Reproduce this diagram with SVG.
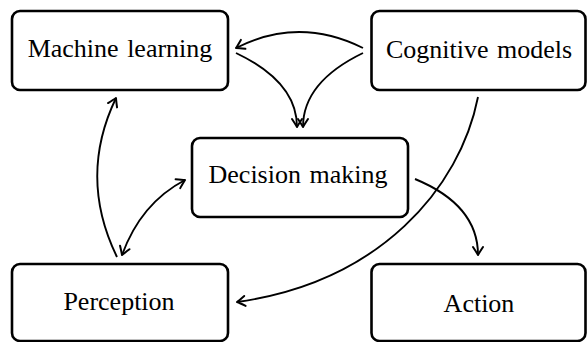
<svg xmlns="http://www.w3.org/2000/svg" width="587" height="342" viewBox="0 0 587 342">
<style>
.box{fill:#fff;stroke:#000;stroke-width:2.6}
.lbl{font-family:'Liberation Serif','Times New Roman',Tinos,serif;font-size:26px;fill:#000;text-anchor:middle;word-spacing:2px}
.edge{fill:none;stroke:#000;stroke-width:1.9}
</style>
<defs>
<marker id="arr" viewBox="-10 -7 12 14" markerWidth="12" markerHeight="14" refX="0" refY="0" orient="auto-start-reverse" markerUnits="userSpaceOnUse">
<path d="M-8,-5 Q-2.5,-1.4 0,0 Q-2.5,1.4 -8,5" fill="none" stroke="#000" stroke-width="2" stroke-linecap="round" stroke-linejoin="round"/>
</marker>
</defs>
<rect width="587" height="342" fill="#fff"/>
<g id="machine-learning"><rect class="box" x="12" y="11" width="216" height="79" rx="8"/><text class="lbl" x="120" y="57" font-family="Liberation Serif, serif">Machine learning</text></g>
<g id="cognitive-models"><rect class="box" x="371.5" y="11" width="214" height="79" rx="8"/><text class="lbl" x="479" y="58" font-family="Liberation Serif, serif">Cognitive models</text></g>
<g id="decision-making"><rect class="box" x="192" y="138" width="216" height="79" rx="8"/><text class="lbl" x="298" y="183" font-family="Liberation Serif, serif">Decision making</text></g>
<g id="perception"><rect class="box" x="12" y="264" width="216" height="77" rx="8"/><text class="lbl" x="119" y="310" font-family="Liberation Serif, serif">Perception</text></g>
<g id="action"><rect class="box" x="371.5" y="264" width="214" height="77" rx="8"/><text class="lbl" x="479" y="312" font-family="Liberation Serif, serif">Action</text></g>
<g id="connectors">
<path class="edge" marker-end="url(#arr)" d="M363,48 Q299,16 236,48"/>
<path class="edge" marker-end="url(#arr)" d="M236,53 Q297,82 297,127"/>
<path class="edge" marker-end="url(#arr)" d="M363,53 Q303,82 303,127"/>
<path class="edge" marker-end="url(#arr)" d="M478,97 C460,188 380,282 237,302"/>
<path class="edge" marker-end="url(#arr)" d="M415,179 Q478,205 478,255"/>
<path class="edge" marker-start="url(#arr)" marker-end="url(#arr)" d="M122,255 Q141,203 185,180"/>
<path class="edge" marker-end="url(#arr)" d="M117,257 Q78,177 116,98"/>
</g>
</svg>
